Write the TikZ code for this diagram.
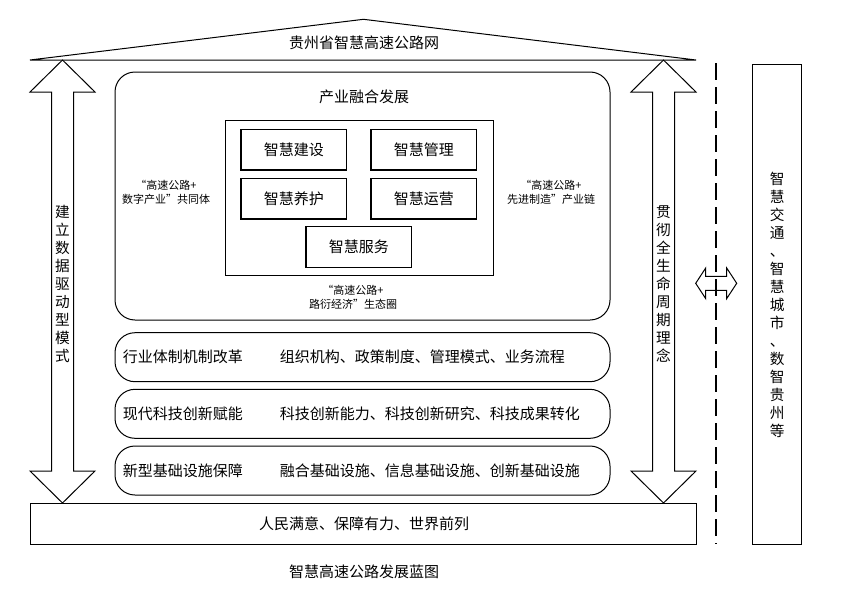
\documentclass[tikz,border=0pt]{standalone}
\usepackage{fontspec}
\setmainfont{Noto Sans CJK SC}
\usepackage{tikz}
\usetikzlibrary{positioning}
\tikzset{
	frame/.style={draw, line width=0.75pt}
}
\tikzset{
	plaintext/.style={inner sep=0pt, font=\fontsize{11.25}{14}\selectfont},
	notetext/.style={inner sep=0pt, align=center, font=\fontsize{8.25}{10.5}\selectfont},
	uprighttext/.style={inner sep=0pt, align=center, font=\fontsize{11}{13.5}\selectfont},
	tile/.style={frame, line width=0.9pt, minimum width=79.3pt, minimum height=30.5pt, inner sep=0pt, font=\fontsize{11.25}{14}\selectfont},
	layer/.style={frame, rounded corners=15pt, minimum width=371.25pt, minimum height=36.75pt},
	cutline/.style={line width=2pt, dash pattern=on 12.75pt off 5.25pt}
}

\begin{document}
\begin{tikzpicture}[x=0.75pt,y=-0.75pt]
      \useasboundingbox (0,0) rectangle (843,596);
      \draw[frame] (30,60) -- (363.5,19.3) -- (696,60) -- cycle;
      \node[plaintext] (net) at (364,43) {贵州省智慧高速公路网};

      \node[frame, rounded corners=15pt, minimum width=371.25pt, minimum height=186pt] (merge) at (362.5,196) {};
      \node[plaintext] (mergetitle) at (364,97) {产业融合发展};
      \node[frame, minimum width=201.2pt, minimum height=116pt] (core) at (359.2,198.3) {};
      \node[tile] (build) at (293.8,149.7) {智慧建设};
      \node[tile] (manage) at (423.8,149.7) {智慧管理};
      \node[tile] (maintain) at (293.8,198.7) {智慧养护};
      \node[tile] (operate) at (423.8,198.7) {智慧运营};
      \node[tile] (serve) at (358.8,247) {智慧服务};
      \node[notetext] (digital) at (166,192) {“高速公路+\\数字产业”共同体};
      \node[notetext] (manufac) at (551,192) {“高速公路+\\先进制造”产业链};
      \node[notetext] (ecology) at (353,297) {“高速公路+\\路衍经济”生态圈};

      \node[layer] (reform) at (362.5,357.2) {};
      \node[plaintext, right=6pt of reform.west] (reforma) {行业体制机制改革};
      \node[plaintext, right=123.75pt of reform.west] (reformb) {组织机构、政策制度、管理模式、业务流程};
      \node[layer] (tech) at (362.5,413.8) {};
      \node[plaintext, right=6pt of tech.west] (techa) {现代科技创新赋能};
      \node[plaintext, right=123.75pt of tech.west] (techb) {科技创新能力、科技创新研究、科技成果转化};
      \node[layer] (infra) at (362.5,470.5) {};
      \node[plaintext, right=6pt of infra.west] (infraa) {新型基础设施保障};
      \node[plaintext, right=123.75pt of infra.west] (infrab) {融合基础设施、信息基础设施、创新基础设施};

      \node[frame, minimum width=499.5pt, minimum height=30.75pt] (base) at (363,523.5) {};
      \node[plaintext] (basetext) at (364,523.5) {人民满意、保障有力、世界前列};
      \node[plaintext] (caption) at (364,572) {智慧高速公路发展蓝图};

      \draw[frame, fill=white] (62.5,60) -- ++(32.5,32) -- ++(-21.5,0) -- ++(0,379) -- ++(21.5,0) -- ++(-32.5,32)
        -- ++(-32.5,-32) -- ++(21.5,0) -- ++(0,-379) -- ++(-21.5,0) -- cycle;
      \node[uprighttext] (data) at (62.5,284) {建\\立\\数\\据\\驱\\动\\型\\模\\式};
      \draw[frame, fill=white] (663.5,60) -- ++(32.5,32) -- ++(-21.5,0) -- ++(0,379) -- ++(21.5,0) -- ++(-32.5,32)
        -- ++(-32.5,-32) -- ++(21.5,0) -- ++(0,-379) -- ++(-21.5,0) -- cycle;
      \node[uprighttext] (life) at (663.5,284.5) {贯\\彻\\全\\生\\命\\周\\期\\理\\念};

      \draw[frame] (695.7,283.3) -- ++(10,-15.3) -- ++(0,8.3) -- ++(21,0) -- ++(0,-8.3) -- ++(10,15.3)
        -- ++(-10,15.3) -- ++(0,-8.3) -- ++(-21,0) -- ++(0,8.3) -- cycle;
      \coordinate (cuttop) at (716,63);
      \coordinate (cutbot) at (716,544);
      \draw[cutline] (cuttop) -- (cutbot);

      \node[frame, minimum width=36.75pt, minimum height=360pt] (city) at (777.2,304) {};
      \node[uprighttext] (citytext) at (777.2,305) {智\\慧\\交\\通\\、\\智\\慧\\城\\市\\、\\数\\智\\贵\\州\\等};
    \end{tikzpicture}
\end{document}
